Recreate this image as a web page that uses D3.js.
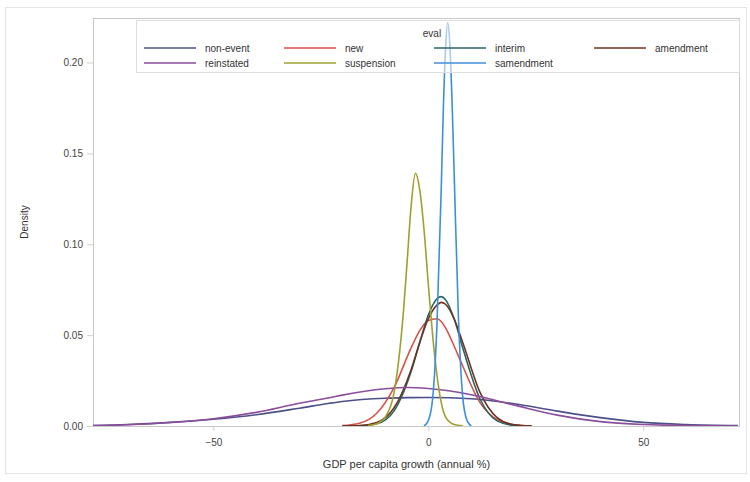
<!DOCTYPE html>
<html>
<head>
<meta charset="utf-8">
<script src="https://cdn.jsdelivr.net/npm/d3@7"></script>
<style>
  body { margin: 0; background: #fff; }
  svg { font-family: "Liberation Sans", Arial, sans-serif; }
</style>
</head>
<body>
<svg class="vis" width="750" height="482"></svg>
<script>

// series names, legend order (two rows of four columns)
const evals = ['non-event', 'new', 'interim', 'amendment', 'reinstated', 'suspension', 'samendment'];
const colors = ['#4b5088', '#d5524b', '#2b6468', '#6e3420', '#8c4d9c', '#a0a030', '#3f8fd8'];

// wide curves
const xWide = [-78, -70, -60, -50, -40, -30, -23, -20, -10, -5, 0, 10, 20, 30, 40, 50, 60, 72];
const nonEvent = [0.0003, 0.0008, 0.0020, 0.0037, 0.0062, 0.0098, 0.0125, 0.0135, 0.0153, 0.0156, 0.0157, 0.0150, 0.0122, 0.0082, 0.0046, 0.0020, 0.0008, 0.0002];
const reinstated = [0.0002, 0.0007, 0.0019, 0.0040, 0.0075, 0.0125, 0.0155, 0.0170, 0.0205, 0.0212, 0.0206, 0.0172, 0.0115, 0.0060, 0.0024, 0.0008, 0.0002, 0.0000];

// mid-width curves
const xMid = [-20, -16, -12, -8, -4, -2, 0, 2, 3, 4, 6, 8, 12, 16, 20, 24];
const newer = [0.0002, 0.0015, 0.0070, 0.0210, 0.0430, 0.0525, 0.0580, 0.0590, 0.0575, 0.0540, 0.0440, 0.0330, 0.0130, 0.0035, 0.0006, 0.0000];
const interim = [0.0000, 0.0001, 0.0012, 0.0082, 0.0300, 0.0460, 0.0610, 0.0700, 0.0712, 0.0695, 0.0590, 0.0430, 0.0150, 0.0028, 0.0003, 0.0000];
const amendment = [0.0000, 0.0002, 0.0019, 0.0099, 0.0310, 0.0460, 0.0590, 0.0665, 0.0680, 0.0670, 0.0590, 0.0460, 0.0186, 0.0046, 0.0007, 0.0001];

// narrow curves
const xSusp = [-14, -12, -10, -8, -7, -6, -5, -4, -3, -2, -1, 0, 1, 2, 3, 4, 6, 8];
const suspension = [0.0002, 0.0012, 0.0050, 0.0180, 0.0340, 0.0570, 0.0880, 0.1210, 0.1390, 0.1300, 0.1080, 0.0780, 0.0500, 0.0280, 0.0130, 0.0050, 0.0008, 0.0001];
const xSam = [-1, 0, 1, 2, 3, 3.5, 4, 4.5, 5, 5.5, 6, 7, 8, 9, 10];
const samendment = [0.0000, 0.0030, 0.0150, 0.0550, 0.1300, 0.1750, 0.2070, 0.2220, 0.2100, 0.1800, 0.1400, 0.0600, 0.0160, 0.0030, 0.0000];

const xTicks = [-50, 0, 50];
const yTicks = [0, 0.05, 0.10, 0.15, 0.20];

const v = {

    elems : {
        svg : 'svg.vis'
    },

    sizings : {
        w : 750,
        h : 482,
        left : 93,
        right : 740,
        top : 18,
        bottom : 426
    },

    series : () => {
        const pts = (xs, ys) => xs.map((x, i) => [x, ys[i]]);
        return [
            pts(xWide, nonEvent),
            pts(xMid, newer),
            pts(xMid, interim),
            pts(xMid, amendment),
            pts(xWide, reinstated),
            pts(xSusp, suspension),
            pts(xSam, samendment)
        ];
    },

    chart : {

        render : () => {

            const s = v.sizings;
            const svg = d3.select(v.elems.svg);

            const x = d3.scaleLinear().domain([-78, 72.5]).range([s.left, s.right]);
            const y = d3.scaleLinear().domain([0, 0.2245]).range([s.bottom, s.top]);

            // figure border
            svg.append('rect')
                .attr('x', 5.5).attr('y', 7.5)
                .attr('width', 741).attr('height', 466)
                .attr('fill', '#fff')
                .attr('stroke', '#e4e4e4');

            svg.append('defs').append('clipPath')
                .attr('id', 'plotclip')
                .append('rect')
                .attr('x', s.left).attr('y', s.top)
                .attr('width', s.right - s.left).attr('height', s.bottom - s.top);

            // y axis
            const yAxis = svg.append('g')
                .attr('transform', `translate(${s.left},0)`)
                .call(d3.axisLeft(y).tickValues(yTicks).tickFormat(d3.format('.2f')).tickSize(6).tickPadding(4));
            yAxis.select('.domain').remove();
            yAxis.selectAll('line').attr('stroke', '#cfcfcf');
            yAxis.selectAll('text').attr('fill', '#444').style('font-size', '10px');

            // x axis
            const xAxis = svg.append('g')
                .attr('transform', `translate(0,${s.bottom})`)
                .call(d3.axisBottom(x).tickValues(xTicks).tickSize(5).tickPadding(8));
            xAxis.select('.domain').remove();
            xAxis.selectAll('line').attr('stroke', '#cfcfcf');
            xAxis.selectAll('text').attr('fill', '#444').style('font-size', '10px');

            // plot frame
            svg.append('rect')
                .attr('x', s.left + 0.5).attr('y', s.top + 0.5)
                .attr('width', s.right - s.left - 1).attr('height', s.bottom - s.top)
                .attr('fill', 'none')
                .attr('stroke', '#c8c8c8');

            // curves
            const line = d3.line()
                .x(d => x(d[0]))
                .y(d => y(d[1]))
                .curve(d3.curveMonotoneX);

            svg.append('g')
                .attr('clip-path', 'url(#plotclip)')
                .selectAll('path.curve')
                .data(v.series())
                .join('path')
                .classed('curve', true)
                .attr('d', line)
                .attr('fill', 'none')
                .attr('stroke', (d, i) => colors[i])
                .attr('stroke-width', 1.6)
                .attr('stroke-linejoin', 'round');

            v.legend.render(svg);

            // axis titles
            svg.append('text')
                .attr('x', (s.left + s.right) / 2 - 10)
                .attr('y', 468)
                .attr('text-anchor', 'middle')
                .attr('fill', '#333')
                .style('font-size', '11px')
                .text('GDP per capita growth (annual %)');

            svg.append('text')
                .attr('transform', `translate(28,${(s.top + s.bottom) / 2}) rotate(-90)`)
                .attr('text-anchor', 'middle')
                .attr('fill', '#333')
                .style('font-size', '10px')
                .text('Density');

        }

    },

    legend : {

        colX : [144, 284, 434, 594],
        rowY : [48, 63],

        render : (svg) => {

            const g = svg.append('g');

            g.append('rect')
                .attr('x', 136.5).attr('y', 20.5)
                .attr('width', 603).attr('height', 52)
                .attr('fill', '#fff')
                .attr('fill-opacity', 0.55)
                .attr('stroke', '#dedede');

            g.append('text')
                .attr('x', 432).attr('y', 37)
                .attr('text-anchor', 'middle')
                .attr('fill', '#333')
                .style('font-size', '10px')
                .text('eval');

            const items = g.selectAll('g.item')
                .data(evals)
                .join('g')
                .classed('item', true)
                .attr('transform', (d, i) => `translate(${v.legend.colX[i % 4]},${v.legend.rowY[Math.floor(i / 4)]})`);

            items.append('line')
                .attr('x1', 0).attr('x2', 52)
                .attr('stroke', (d, i) => colors[i])
                .attr('stroke-width', 1.6);

            items.append('text')
                .attr('x', 61).attr('y', 3.5)
                .attr('fill', '#333')
                .style('font-size', '10px')
                .text(d => d);

        }

    }

}

v.chart.render();
</script>
</body>
</html>
